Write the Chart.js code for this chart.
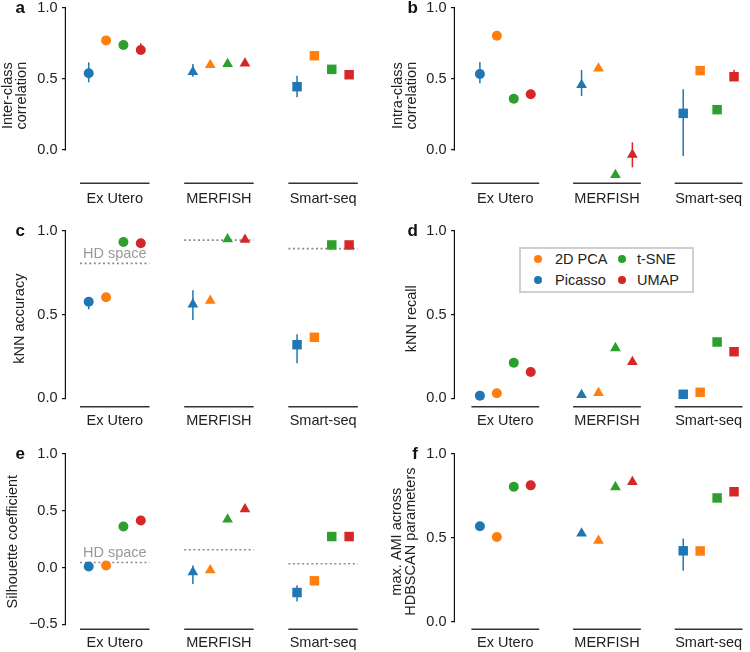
<!DOCTYPE html>
<html><head><meta charset="utf-8">
<script src="https://cdn.jsdelivr.net/npm/chart.js@4.4.1/dist/chart.umd.min.js"></script>
<style>
html,body{margin:0;padding:0;background:#fff;}
body{width:750px;height:652px;position:relative;overflow:hidden;font-family:'Liberation Sans',Arial,Helvetica,sans-serif;color:#222;}
canvas{position:absolute;}
.letter{position:absolute;width:30px;text-align:right;font-weight:bold;font-size:17px;line-height:17px;color:#111;}
#legend{position:absolute;left:519px;top:247px;width:171px;height:42px;border:2px solid #cfcfcf;background:#fff;}
.lg{position:absolute;font-size:14.5px;line-height:14px;white-space:nowrap;color:#222;}
.dot{position:absolute;width:8px;height:8px;border-radius:50%;}
</style></head><body>
<script>
// ---------------- data ----------------
const categories = ['Ex Utero', 'MERFISH', 'Smart-seq'];
const methods = ['Picasso', '2D PCA', 't-SNE', 'UMAP'];
const legendOrder = ['2D PCA', 'Picasso', 't-SNE', 'UMAP']; // column-major, 2 columns
const ticks01 = [0, 0.5, 1.0];
const ticksSil = [-0.5, 0, 0.5, 1.0];

// rows: Picasso, 2D PCA, t-SNE, UMAP ; columns: Ex Utero, MERFISH, Smart-seq
const interClass   = [[0.540, 0.550, 0.446], [0.772, 0.599, 0.664], [0.739, 0.606, 0.568], [0.704, 0.610, 0.530]];
const interClassLo = [[0.477, 0.516, 0.371], [null, null, null], [null, null, null], [0.690, null, 0.505]];
const interClassHi = [[0.617, 0.606, 0.523], [null, null, null], [null, null, null], [0.751, null, 0.555]];

const intraClass   = [[0.535, 0.458, 0.258], [0.805, 0.575, 0.559], [0.361, -0.176, 0.284], [0.392, -0.033, 0.516]];
const intraClassLo = [[0.470, 0.380, -0.042], [null, null, null], [null, null, 0.255], [null, -0.122, 0.490]];
const intraClassHi = [[0.620, 0.563, 0.427], [null, null, null], [null, null, 0.310], [null, 0.054, 0.565]];

const knnAccuracy   = [[0.576, 0.561, 0.320], [0.603, 0.582, 0.364], [0.933, 0.949, 0.915], [0.925, 0.946, 0.915]];
const knnAccuracyLo = [[0.531, 0.467, 0.209], [null, null, null], [null, null, null], [null, null, null]];
const knnAccuracyHi = [[0.603, 0.644, 0.382], [null, null, null], [null, null, null], [null, null, null]];
const knnAccuracyHD = [0.805, 0.944, 0.893];

const knnRecall   = [[0.016, 0.020, 0.024], [0.030, 0.032, 0.036], [0.212, 0.300, 0.336], [0.157, 0.217, 0.278]];

const silhouette   = [[0.009, -0.041, -0.220], [0.018, -0.023, -0.117], [0.361, 0.423, 0.273], [0.414, 0.514, 0.273]];
const silhouetteLo = [[null, -0.146, -0.300], [null, null, null], [null, null, null], [null, null, null]];
const silhouetteHi = [[null, 0.018, -0.155], [null, null, null], [null, null, null], [null, null, null]];
const silhouetteHD = [0.044, 0.156, 0.033];

const maxAMI   = [[0.569, 0.527, 0.423], [0.505, 0.483, 0.422], [0.805, 0.803, 0.738], [0.813, 0.833, 0.775]];
const maxAMILo = [[null, null, 0.304], [null, null, null], [null, null, 0.720], [null, 0.820, null]];
const maxAMIHi = [[null, null, 0.497], [null, null, null], [null, null, 0.758], [null, 0.862, null]];

// ---------------- styles ----------------
const colors = ['#1f77b4', '#ff7f0e', '#2ca02c', '#d62728'];
const dodge = [-0.25, -1 / 12, 1 / 12, 0.25];
const markerStyles = ['circle', 'triangle', 'rect'];
const markerRadii = [5, 6.2, 6.7];
const FONT = "'Liberation Sans', Arial, sans-serif";
const FS = 14.5;

Chart.defaults.font.family = FONT;
Chart.defaults.font.size = FS;
Chart.defaults.color = '#222';

function deco(p) {
  return {
    id: 'deco' + p.id,
    beforeDatasetsDraw(chart) {
      const {ctx, chartArea: ca, scales: {x, y}} = chart;
      ctx.save();
      // trimmed y spine
      ctx.strokeStyle = '#111';
      ctx.lineWidth = 1.2;
      const sx = ca.left - 0.6;
      ctx.beginPath();
      ctx.moveTo(sx, y.getPixelForValue(p.yTicks[0]) + 0.6);
      ctx.lineTo(sx, y.getPixelForValue(p.yTicks[p.yTicks.length - 1]) - 0.6);
      ctx.stroke();
      // per-category baseline segments
      ctx.strokeStyle = '#333';
      ctx.lineWidth = 1.4;
      categories.forEach((c, i) => {
        ctx.beginPath();
        ctx.moveTo(x.getPixelForValue(i - 1 / 3), ca.bottom);
        ctx.lineTo(x.getPixelForValue(i + 1 / 3), ca.bottom);
        ctx.stroke();
      });
      // error bars
      if (p.lo) {
        ctx.lineWidth = 1.5;
        p.lo.forEach((row, k) => row.forEach((lo, i) => {
          const hi = p.hi[k][i];
          if (lo == null || hi == null) return;
          const px = x.getPixelForValue(i + dodge[k]);
          ctx.strokeStyle = colors[k];
          ctx.beginPath();
          ctx.moveTo(px, y.getPixelForValue(lo));
          ctx.lineTo(px, y.getPixelForValue(hi));
          ctx.stroke();
        }));
      }
      // "HD space" label
      if (p.hd) {
        ctx.fillStyle = '#999';
        ctx.font = FS + 'px ' + FONT;
        ctx.textAlign = 'center';
        ctx.textBaseline = 'middle';
        ctx.fillText('HD space', x.getPixelForValue(0), y.getPixelForValue(p.hd[0]) - 9.5);
      }
      ctx.restore();
    }
  };
}

function makePanel(p) {
  const cv = document.createElement('canvas');
  cv.width = p.w; cv.height = p.h;
  cv.style.left = p.left + 'px'; cv.style.top = p.top + 'px';
  cv.style.width = p.w + 'px'; cv.style.height = p.h + 'px';
  document.body.appendChild(cv);
  const datasets = methods.map((m, k) => ({
    type: 'scatter',
    label: m,
    data: categories.map((c, i) => ({x: i + dodge[k], y: p.values[k][i]})),
    pointStyle: markerStyles,
    pointRadius: markerRadii,
    pointHoverRadius: markerRadii,
    backgroundColor: colors[k],
    borderColor: colors[k],
    borderWidth: 0,
    order: 1,
    clip: false
  }));
  if (p.hd) {
    p.hd.forEach((v, i) => datasets.push({
      type: 'line',
      label: 'HD space',
      data: [{x: i - 1 / 3, y: v}, {x: i + 1 / 3, y: v}],
      borderColor: '#8c8c8c',
      borderWidth: 1.6,
      borderDash: [2, 2.6],
      pointRadius: 0,
      fill: false,
      order: 5
    }));
  }
  new Chart(cv, {
    type: 'scatter',
    data: {datasets},
    options: {
      responsive: false,
      animation: false,
      devicePixelRatio: 1,
      events: [],
      layout: {padding: {top: p.chartTop - p.top, right: p.left + p.w - p.chartRight, bottom: 0, left: 0}},
      plugins: {legend: {display: false}, tooltip: {enabled: false}},
      scales: {
        x: {
          type: 'linear', position: 'bottom', bounds: 'data',
          min: p.xMin, max: p.xMax,
          afterBuildTicks: s => { s.ticks = categories.map((c, i) => ({value: i})); },
          afterFit: s => {
            s.height = p.top + p.h - p.chartBottom;
            s.paddingLeft = 0; s.paddingRight = 0; s.paddingTop = 0; s.paddingBottom = 0;
          },
          grid: {display: false, drawTicks: false},
          border: {display: false},
          ticks: {
            callback: v => categories[Math.round(v)],
            padding: p.labelGap - FS * 0.6, maxRotation: 0, autoSkip: false,
            font: {size: FS, lineHeight: 1.2}, color: '#222'
          }
        },
        y: {
          type: 'linear', position: 'left', bounds: 'data',
          min: p.yMin, max: 1.0,
          afterBuildTicks: s => { s.ticks = p.yTicks.map(v => ({value: v})); },
          afterFit: s => {
            s.width = p.axisX - p.left;
            s.paddingLeft = 0; s.paddingRight = 0; s.paddingTop = 0; s.paddingBottom = 0;
          },
          grid: {display: true, drawOnChartArea: false, drawTicks: true, tickLength: 4, color: '#111', lineWidth: 1.2},
          border: {display: false},
          ticks: {
            callback: v => (v < 0 ? '\u2212' : '') + Math.abs(v).toFixed(1),
            padding: 4.5, autoSkip: false, font: {size: FS}, color: '#222'
          },
          title: {
            display: true, text: p.title,
            font: {size: FS, lineHeight: 14 / FS}, color: '#222',
            padding: {top: p.titleX - 7, bottom: 0}
          }
        }
      }
    },
    plugins: [deco(p)]
  });
}

const L = {left: 0, w: 375, axisX: 66, chartRight: 370, xMin: -0.468, xMax: 2.434};
const R = {left: 375, w: 375, axisX: 455, chartRight: 750, xMin: -0.495, xMax: 2.341};
const row1 = {top: 0, h: 212, chartTop: 8, chartBottom: 183.3, labelGap: 16};
const row2 = {top: 212, h: 220, chartTop: 230.7, chartBottom: 406.7, labelGap: 14.5};
const row3 = {top: 432, h: 220, chartTop: 454, chartBottom: 629.3, labelGap: 13.5};

makePanel(Object.assign({id: 'a', values: interClass, lo: interClassLo, hi: interClassHi, yTicks: ticks01, yMin: -0.2345,
  title: ['Inter-class', 'correlation'], titleX: 8}, L, row1));
makePanel(Object.assign({id: 'b', values: intraClass, lo: intraClassLo, hi: intraClassHi, yTicks: ticks01, yMin: -0.2345,
  title: ['Intra-class', 'correlation'], titleX: 23}, R, row1));
makePanel(Object.assign({id: 'c', values: knnAccuracy, lo: knnAccuracyLo, hi: knnAccuracyHi, hd: knnAccuracyHD, yTicks: ticks01, yMin: -0.050,
  title: 'kNN accuracy', titleX: 20}, L, row2));
makePanel(Object.assign({id: 'd', values: knnRecall, yTicks: ticks01, yMin: -0.050,
  title: 'kNN recall', titleX: 37}, R, row2));
makePanel(Object.assign({id: 'e', values: silhouette, lo: silhouetteLo, hi: silhouetteHi, hd: silhouetteHD, yTicks: ticksSil, yMin: -0.544,
  title: 'Silhouette coefficient', titleX: 12.5}, L, row3));
makePanel(Object.assign({id: 'f', values: maxAMI, lo: maxAMILo, hi: maxAMIHi, yTicks: ticks01, yMin: -0.045,
  title: ['max. AMI across', 'HDBSCAN parameters'], titleX: 22}, R, row3));

// panel letters
[['a', 25, 13], ['b', 418, 13], ['c', 25, 236], ['d', 418, 236], ['e', 25, 459], ['f', 418, 459]].forEach(([t, right, base]) => {
  const d = document.createElement('div');
  d.className = 'letter';
  d.textContent = t;
  d.style.left = (right - 30) + 'px';
  d.style.top = (base - 14.4) + 'px';
  document.body.appendChild(d);
});

// legend (2 columns, column-major)
const lg = document.createElement('div');
lg.id = 'legend';
document.body.appendChild(lg);
const colDot = [538, 621.7], colText = [555, 637], rowY = [259, 280];
legendOrder.forEach((name, n) => {
  const col = Math.floor(n / 2), row = n % 2;
  const k = methods.indexOf(name);
  const dot = document.createElement('div');
  dot.className = 'dot';
  dot.style.background = colors[k];
  dot.style.left = (colDot[col] - 4 - 521) + 'px';
  dot.style.top = (rowY[row] - 4 - 249) + 'px';
  lg.appendChild(dot);
  const tx = document.createElement('div');
  tx.className = 'lg';
  tx.textContent = name;
  tx.style.left = (colText[col] - 521) + 'px';
  tx.style.top = (rowY[row] - 7 - 249) + 'px';
  lg.appendChild(tx);
});
</script>
</body></html>
